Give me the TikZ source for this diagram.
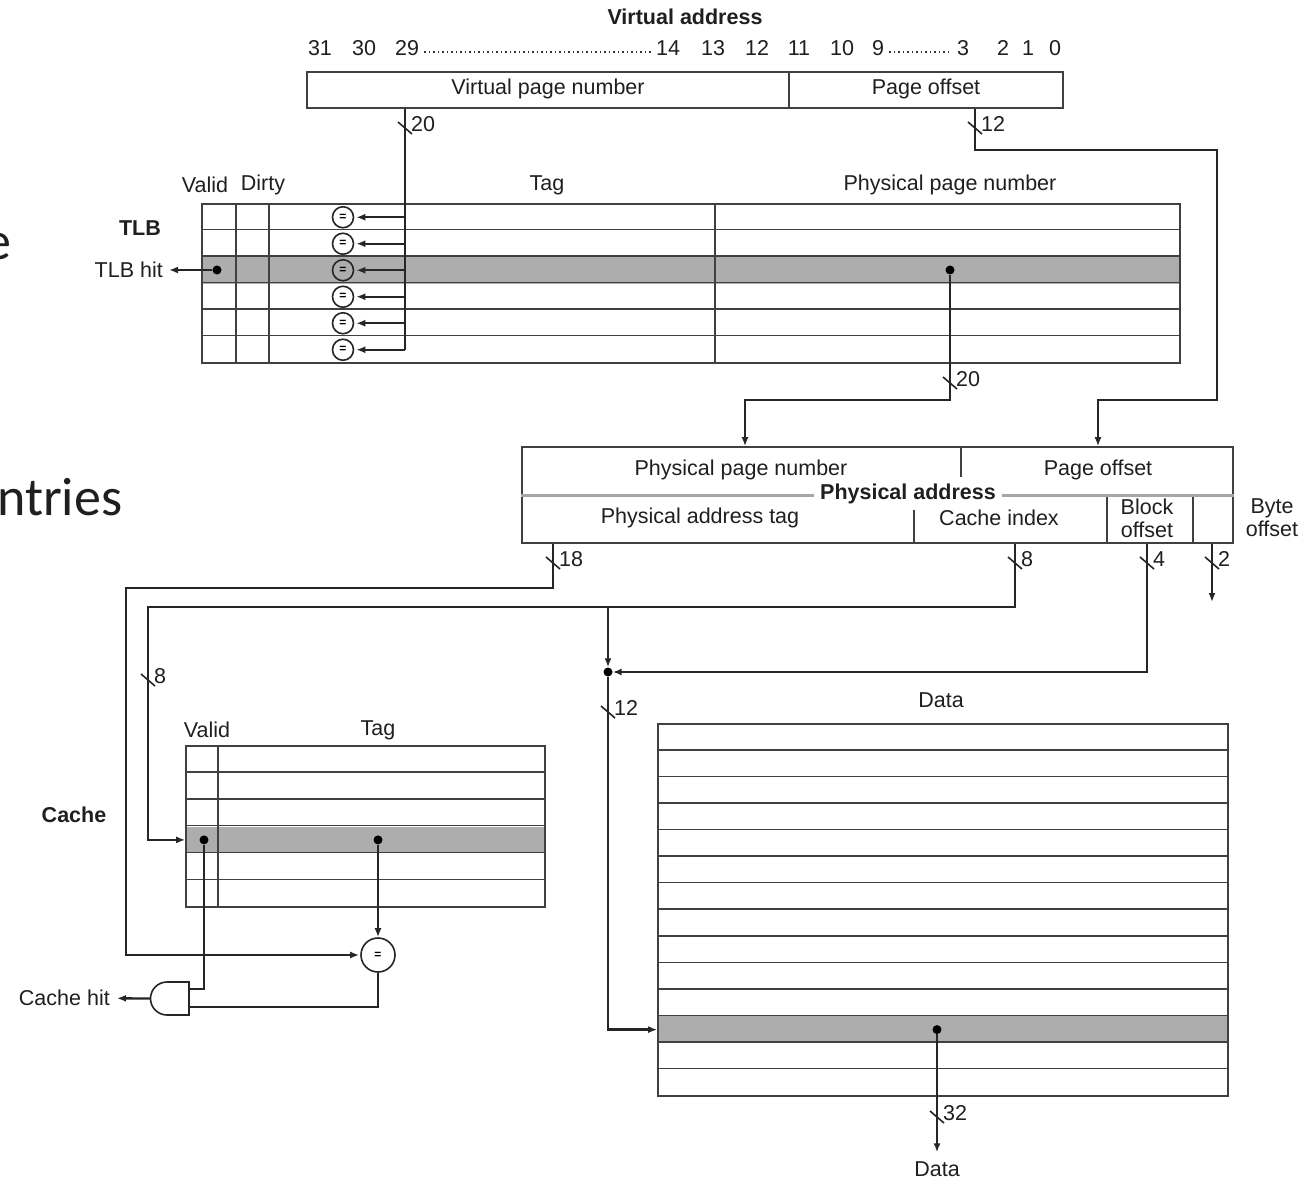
\documentclass[tikz,border=0pt]{standalone}
\usepackage{fontspec}
\setmainfont{Liberation Sans}
\newfontfamily\slidefont{Carlito}
\usetikzlibrary{arrows.meta, calc, positioning}
\newcommand{\lbl}{\fontsize{21.5}{23}\selectfont}
\tikzset{
    textnode/.style = {draw=none, fill=none, inner sep=0pt, font=\lbl, align=center, text=black!88},
    boldnode/.style = {textnode, font=\lbl\bfseries},
    tablenode/.style = {draw=black!75, line width=1.6pt, rectangle, inner sep=0pt},
    gridline/.style = {draw=black!75, line width=1.6pt},
    wire/.style = {draw=black!85, line width=2.3pt},
    connect/.style = {wire, -{Latex[length=9pt, width=7pt]}},
    hitrow/.style = {fill=black!32, draw=none},
    dotnode/.style = {circle, fill=black, inner sep=0pt, minimum size=9pt},
    cmpnode/.style = {circle, draw=black!85, line width=1.6pt, inner sep=0pt, font=\fontsize{12}{12}\selectfont\bfseries},
    dotline/.style = {draw=black!80, line width=1.5pt, dash pattern=on 1.5pt off 3pt}
}
% bus width mark: name, x, y, width
\newcommand{\busmark}[4]{%
  \draw[gridline, draw=black!85] (#2-7,#3-6) -- (#2+7,#3+6);
  \node[textnode, anchor=west] (#1) at (#2+6,#3-4) {#4};}

\begin{document}
\begin{tikzpicture}[x=1pt, y=-1pt]
\fill[white] (0,0) rectangle (1302,1182);
\useasboundingbox (0,0) rectangle (1302,1182);

% slide text cut off at the left edge
\node[textnode, font=\slidefont\fontsize{54}{60}\selectfont, anchor=base east] (slidee) at (12,260) {e};
\node[textnode, font=\slidefont\fontsize{54}{60}\selectfont, anchor=base west] (slidentries) at (-3,515) {ntries};

% virtual address
\node[boldnode] (vatitle) at (685,17) {Virtual address};
\foreach \x/\b in {320/31, 364/30, 407/29, 668/14, 713/13, 757/12, 799/11, 842/10, 878/9, 963/3, 1003/2, 1028/1, 1055/0}
  \node[textnode] (bit\b) at (\x,48) {\b};
\draw[dotline] ($(bit29.east)+(5,4)$) -- ($(bit14.west)+(-5,4)$);
\draw[dotline] ($(bit9.east)+(5,4)$) -- ($(bit3.west)+(-5,4)$);

\node[tablenode, minimum width=756pt, minimum height=36pt] (va) at (685,90) {};
\draw[gridline] (789,0 |- va.north) -- (789,0 |- va.south);
\node[textnode] (vpn) at (548,89) {Virtual page number};
\node[textnode] (vpo) at (926,89) {Page offset};

% TLB
\node[textnode] (tlbvalid) at (205,185) {Valid};
\node[textnode] (tlbdirty) at (263,185) {Dirty};
\node[textnode] (tlbtag) at (547,185) {Tag};
\node[textnode] (tlbppn) at (950,185) {Physical page number};
\node[boldnode] (tlblabel) at (140,228) {TLB};

\fill[hitrow] (202,257) rectangle (1180,284);
\node[tablenode, minimum width=978pt, minimum height=159pt] (tlb) at (691,283.5) {};
\foreach \k in {1,...,5}
  \draw[gridline] ($(tlb.north west)+(0,26.5*\k)$) -- ($(tlb.north east)+(0,26.5*\k)$);
\foreach \x in {236,269,715}
  \draw[gridline] (\x,0 |- tlb.north) -- (\x,0 |- tlb.south);

\coordinate (vpnout) at (405,0 |- va.south);
\foreach \k in {0,...,5} {
  \node[cmpnode, minimum size=21pt] (tcmp\k) at (343,217.25+26.5*\k) {=};
  \draw[connect, shorten >=2pt] (vpnout |- tcmp\k) -- (tcmp\k);
}
\draw[wire] (vpnout) -- (vpnout |- tcmp5);
\busmark{w20a}{405}{128}{20}

\node[dotnode] (tlbdot) at (217,270) {};
\node[textnode, anchor=east] (tlbhit) at (163,270) {TLB hit};
\draw[connect, shorten >=6pt] (tlbdot) -- (tlbhit);
\node[dotnode] (ppndot) at (950,270) {};

% physical address
\node[tablenode, minimum width=711pt, minimum height=96pt] (pa) at (877.5,495) {};
\draw[draw=black!35, line width=3pt] (pa.west) -- (pa.east);
\node[boldnode, fill=white, inner xsep=6pt, inner ysep=1pt] (patitle) at (908,494) {Physical address};
\draw[gridline] (961,0 |- pa.north) -- (961,477);
\draw[gridline] (914,510) -- (914,0 |- pa.south);
\draw[gridline] (1107,497) -- (1107,0 |- pa.south);
\draw[gridline] (1193,497) -- (1193,0 |- pa.south);
\node[textnode] (pappn) at (741,470) {Physical page number};
\node[textnode] (papo) at (1098,470) {Page offset};
\node[textnode] (patag) at (700,518) {Physical address tag};
\node[textnode] (paidx) at (999,518) {Cache index};
\node[textnode] (pablk) at (1147,518) {Block\\offset};
\node[textnode] (pabyte) at (1272,518) {Byte\\offset};

% TLB to physical address
\coordinate (ppnin) at (745,400);
\draw[connect] (ppndot) |- (ppnin) -- (ppnin |- pa.north);
\busmark{w20b}{950}{383}{20}

\coordinate (poout) at (975,0 |- va.south);
\coordinate (poright) at (1217,150);
\coordinate (poleft) at (1098,400);
\draw[connect] (poout) |- (poright) |- (poleft) -- (poleft |- pa.north);
\busmark{w12a}{975}{128}{12}

% cache
\node[boldnode] (cachelabel) at (74,815) {Cache};
\node[textnode] (cvalid) at (207,730) {Valid};
\node[textnode] (ctag) at (378,730) {Tag};
\fill[hitrow] (186,826.5) rectangle (545,853.3);
\node[tablenode, minimum width=359pt, minimum height=161pt] (cache) at (365.5,826.5) {};
\foreach \k in {1,...,5}
  \draw[gridline] ($(cache.north west)+(0,26.83*\k)$) -- ($(cache.north east)+(0,26.83*\k)$);
\draw[gridline] (218,0 |- cache.north) -- (218,0 |- cache.south);
\node[dotnode] (cvdot) at (204,839.9) {};
\node[dotnode] (ctdot) at (378,839.9) {};

\node[cmpnode, minimum size=34pt] (ccmp) at (378,955) {=};
\draw[connect] (ctdot) -- (ccmp);

% and gate
\coordinate (andin1) at (189,989);
\coordinate (andin2) at (189,1007);
\coordinate (andout) at (150.5,998.5);
\draw[gridline, draw=black!85, fill=white] (189,982) -- (167,982) arc[start angle=-90, end angle=-270, radius=16.5] -- (189,1015) -- cycle;
\draw[wire] (cvdot) |- (andin1);
\draw[wire] (ccmp) |- (andin2);
\node[textnode, anchor=east] (cachehit) at (110,998) {Cache hit};
\draw[connect, shorten >=7pt] (andout) -- (cachehit);

% data
\node[textnode] (datatitle) at (941,700) {Data};
\fill[hitrow] (658,1016.3) rectangle (1228,1042.9);
\node[tablenode, minimum width=570pt, minimum height=372pt] (data) at (943,910) {};
\foreach \k in {1,...,13}
  \draw[gridline] ($(data.north west)+(0,26.571*\k)$) -- ($(data.north east)+(0,26.571*\k)$);
\node[dotnode] (ddot) at (937,1029.6) {};
\node[textnode] (dataout) at (937,1169) {Data};
\draw[connect, shorten >=9pt] (ddot) -- (dataout);
\busmark{w32}{937}{1117}{32}

% physical address fields
\coordinate (tagout) at (553,0 |- pa.south);
\coordinate (tagbend) at (126,588);
\draw[connect, shorten >=1pt] (tagout) |- (tagbend) |- (ccmp);
\busmark{w18}{553}{563}{18}

\coordinate (idxout) at (1015,0 |- pa.south);
\coordinate (idxbend) at (148,607);
\coordinate (idxsplit) at (608,607);
\draw[connect] (idxout) |- (idxbend) |- (cvdot -| cache.west);
\busmark{w8a}{1015}{563}{8}
\busmark{w8b}{148}{680}{8}

\node[dotnode] (join) at (608,672) {};
\draw[connect] (idxsplit) -- (join);
\draw[connect] (join) |- (ddot -| data.west);
\busmark{w12b}{608}{712}{12}

\coordinate (blkout) at (1147,0 |- pa.south);
\draw[connect] (blkout) |- (join);
\busmark{w4}{1147}{563}{4}

\coordinate (byteout) at (1212,0 |- pa.south);
\coordinate (byteend) at (1212,602);
\draw[connect] (byteout) -- (byteend);
\busmark{w2}{1212}{563}{2}
\end{tikzpicture}
\end{document}
